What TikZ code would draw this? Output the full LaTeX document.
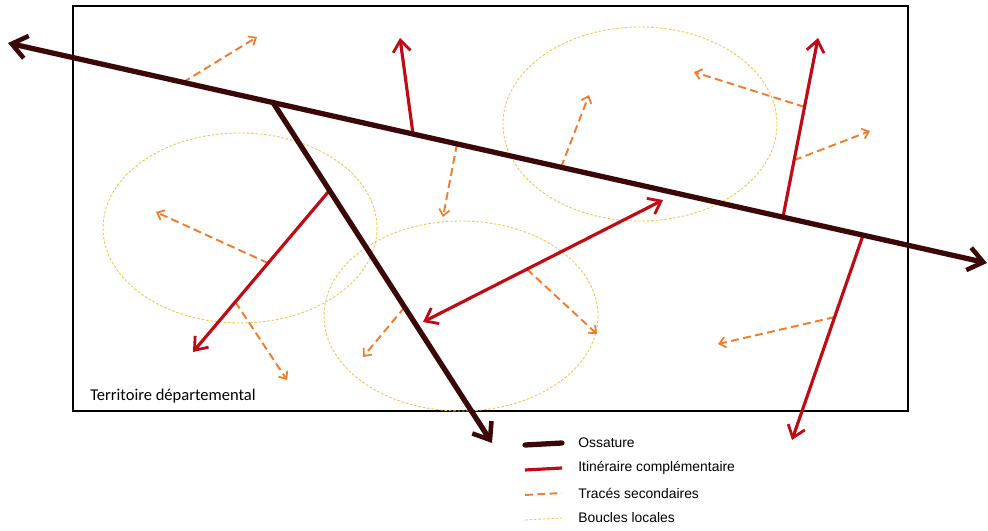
\documentclass[tikz,border=0pt]{standalone}
\usepackage{fontspec}
\setmainfont{Liberation Sans}
\newfontfamily\territoirefont{Carlito}
\usepackage{tikz}
\usetikzlibrary{arrows.meta, calc}

\definecolor{ossature}{RGB}{58,8,8}
\definecolor{itineraire}{RGB}{192,10,20}
\definecolor{trace}{RGB}{240,125,45}
\definecolor{boucle}{RGB}{245,195,75}

\begin{document}
\begin{tikzpicture}[x=0.02cm, y=-0.02cm,
                ossature line/.style={draw=ossature, line width=3pt, line cap=round,
                    >={Straight Barb[length=8.5pt, width=13pt, line width=2.6pt]}},
                itineraire line/.style={draw=itineraire, line width=1.8pt,
                    >={Straight Barb[length=6.5pt, width=10pt, line width=1.6pt]}},
                trace line/.style={draw=trace, line width=1.1pt, dash pattern=on 4.5pt off 2.5pt,
                    >={Straight Barb[length=3.5pt, width=6pt, line width=1pt]}},
                boucle line/.style={draw=boucle, line width=0.5pt, dash pattern=on 1.5pt off 1pt},
                legende/.style={font=\fontsize{7.9}{9}\selectfont, inner sep=0pt, anchor=west}
]
    \useasboundingbox (0,0) rectangle (988,531);

    % Territoire
        \draw[line width=1.1pt] (73,6) rectangle (908,411);
        \node[legende, font=\territoirefont\fontsize{9.4}{11}\selectfont] (territoire) at (90,396) {Territoire départemental};

    % Boucles locales
        \draw[boucle line] (240,228) ellipse [x radius=137, y radius=95];
        \draw[boucle line] (461,316) ellipse [x radius=137, y radius=95];
        \draw[boucle line] (640,124) ellipse [x radius=137, y radius=97];

    % Ossature
        \coordinate (W) at (8,43);
        \coordinate (E) at (987,263);
        \coordinate (J) at ($(W)!0.2707!(E)$);
        \coordinate (S) at (492,443);

    % Itineraires complementaires
        \coordinate (I1a) at ($(W)!0.4137!(E)$);
        \coordinate (I1b) at (400,38);
        \coordinate (I2a) at ($(W)!0.7916!(E)$);
        \coordinate (I2b) at (818,38);
        \coordinate (I3a) at ($(W)!0.8734!(E)$);
        \coordinate (I3b) at (792,440);
        \coordinate (I4a) at ($(J)!0.258!(S)$);
        \coordinate (I4b) at (193,352);
        \coordinate (I5a) at (423,322);
        \coordinate (I5b) at (663,200);

    % Traces secondaires
        \coordinate (Ta) at ($(W)!0.1788!(E)$);
        \coordinate (Ta') at (257,37);
        \coordinate (Tb) at ($(W)!0.4586!(E)$);
        \coordinate (Tb') at (443,217);
        \coordinate (Tc) at ($(W)!0.5649!(E)$);
        \coordinate (Tc') at (589,95);
        \coordinate (Td) at ($(I2a)!0.615!(I2b)$);
        \coordinate (Td') at (694,72);
        \coordinate (Te) at ($(I2a)!0.318!(I2b)$);
        \coordinate (Te') at (870,131);
        \coordinate (Tf) at ($(I4a)!0.45!(I4b)$);
        \coordinate (Tf') at (156,212);
        \coordinate (Tg) at ($(I4a)!0.69!(I4b)$);
        \coordinate (Tg') at (287,380);
        \coordinate (Th) at ($(J)!0.601!(S)$);
        \coordinate (Th') at (363,357);
        \coordinate (Ti) at ($(I5a)!0.433!(I5b)$);
        \coordinate (Ti') at (597,334);
        \coordinate (Tj) at ($(I3a)!0.4!(I3b)$);
        \coordinate (Tj') at (718,344);

        \draw[trace line, ->] (Ta) -- (Ta');
        \draw[trace line, ->] (Tb) -- (Tb');
        \draw[trace line, ->] (Tc) -- (Tc');
        \draw[trace line, ->] (Td) -- (Td');
        \draw[trace line, ->] (Te) -- (Te');
        \draw[trace line, ->] (Tf) -- (Tf');
        \draw[trace line, ->] (Tg) -- (Tg');
        \draw[trace line, ->] (Th) -- (Th');
        \draw[trace line, ->] (Ti) -- (Ti');
        \draw[trace line, ->] (Tj) -- (Tj');

        \draw[itineraire line, ->] (I1a) -- (I1b);
        \draw[itineraire line, ->] (I2a) -- (I2b);
        \draw[itineraire line, ->] (I3a) -- (I3b);
        \draw[itineraire line, ->] (I4a) -- (I4b);
        \draw[itineraire line, <->] (I5a) -- (I5b);

        \draw[ossature line, ->] (J) -- (S);
        \draw[ossature line, <->] (W) -- (E);

    % Legende
        \coordinate (L1a) at (525,445); \coordinate (L1b) at (562,443);
        \coordinate (L2a) at (525,470); \coordinate (L2b) at (562,468);
        \coordinate (L3a) at (525,495); \coordinate (L3b) at (562,493);
        \coordinate (L4a) at (525,520); \coordinate (L4b) at (562,518);
        \draw[ossature line] (L1a) -- (L1b);
        \draw[itineraire line] (L2a) -- (L2b);
        \draw[trace line] (L3a) -- (L3b);
        \draw[boucle line] (L4a) -- (L4b);
        \node[legende] (ossature) at (578,443) {Ossature};
        \node[legende] (itineraire) at (578,468) {Itinéraire complémentaire};
        \node[legende] (trace) at (578,493) {Tracés secondaires};
        \node[legende] (boucle) at (578,518) {Boucles locales};
\end{tikzpicture}
\end{document}
